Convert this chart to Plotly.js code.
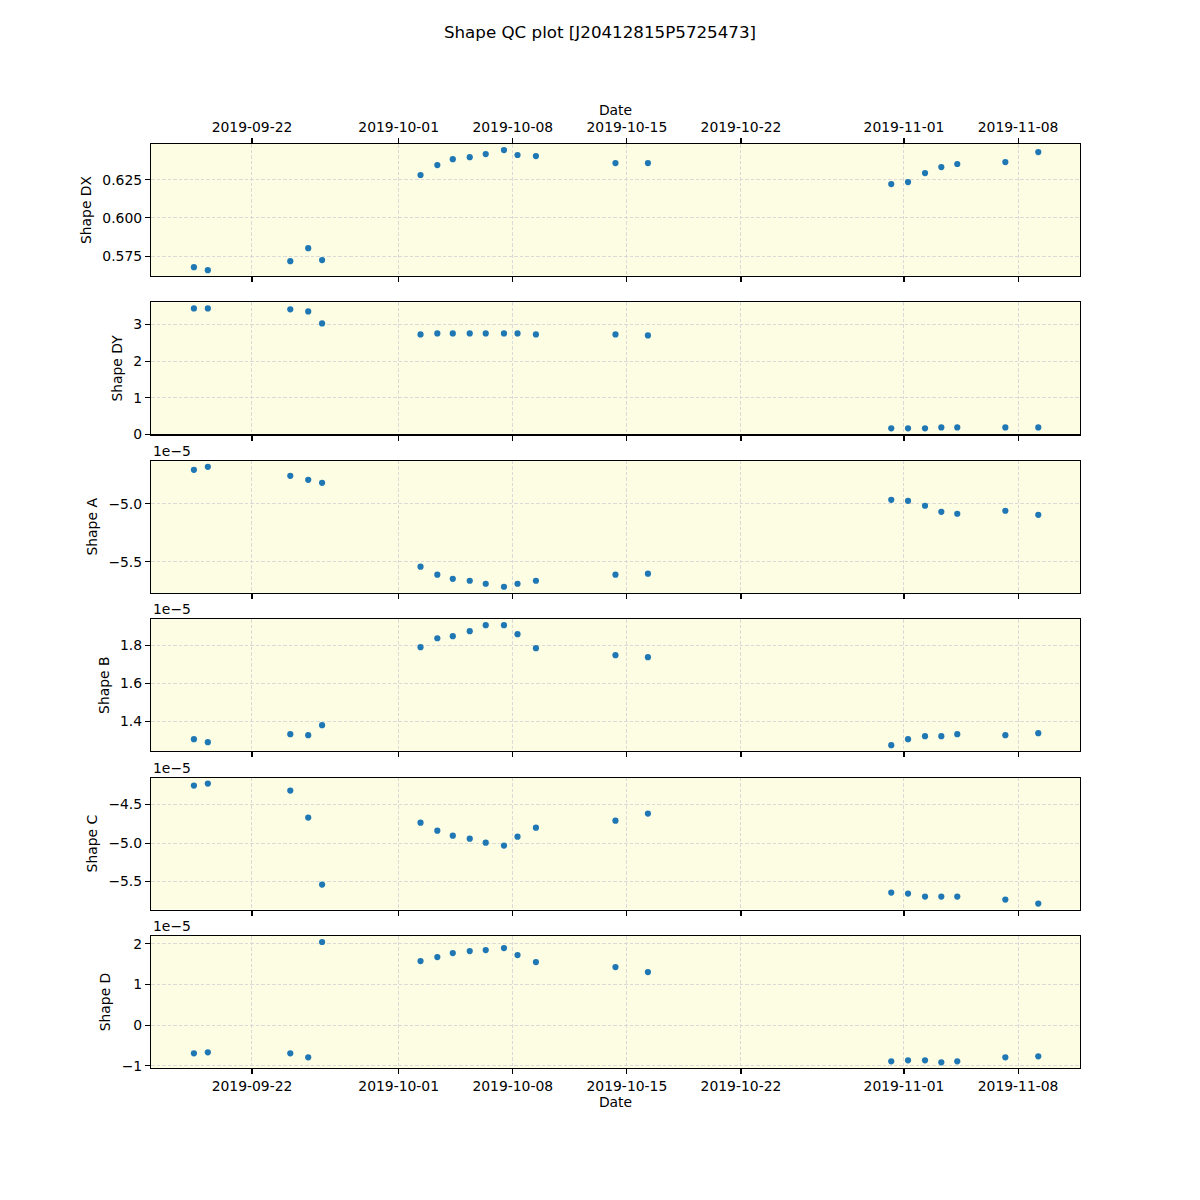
<!DOCTYPE html>
<html>
<head>
<meta charset="utf-8">
<script src="https://cdn.plot.ly/plotly-3.0.1.min.js"></script>
<style>html,body{margin:0;padding:0;background:#fff;}#chart{width:1200px;height:1200px;}</style>
</head>
<body>
<div id="chart"></div>
<script>
// ---- data ----
const dates = [
  '2019-09-18 10:30','2019-09-19 07:00','2019-09-24 08:24','2019-09-25 10:48','2019-09-26 07:12',
  '2019-10-02 08:10','2019-10-03 08:53','2019-10-04 07:40','2019-10-05 08:38','2019-10-06 08:10',
  '2019-10-07 11:02','2019-10-08 07:00','2019-10-09 10:05','2019-10-14 07:12','2019-10-16 07:00',
  '2019-10-31 05:17','2019-11-01 06:00','2019-11-02 07:00','2019-11-03 07:00','2019-11-04 06:29',
  '2019-11-07 05:17','2019-11-09 05:46'
];
const shapeDX = [0.5678,0.5658,0.5717,0.5802,0.5724,0.6281,0.6346,0.6385,0.6398,0.6418,0.6444,
  0.6412,0.6405,0.6359,0.6359,0.6222,0.6235,0.6294,0.6333,0.6353,0.6366,0.6431];
const shapeDY = [3.436,3.436,3.41,3.355,3.027,2.727,2.755,2.755,2.755,2.755,2.755,
  2.755,2.727,2.727,2.70,0.165,0.165,0.165,0.19,0.19,0.19,0.19];
const shapeA = [-4.707e-5,-4.681e-5,-4.759e-5,-4.793e-5,-4.819e-5,-5.543e-5,-5.612e-5,-5.647e-5,-5.664e-5,-5.690e-5,-5.716e-5,
  -5.690e-5,-5.664e-5,-5.612e-5,-5.603e-5,-4.966e-5,-4.974e-5,-5.017e-5,-5.069e-5,-5.086e-5,-5.060e-5,-5.095e-5];
const shapeB = [1.3053e-5,1.2895e-5,1.3316e-5,1.3263e-5,1.3789e-5,1.7895e-5,1.8368e-5,1.8474e-5,1.8737e-5,1.9053e-5,1.9053e-5,
  1.8579e-5,1.7842e-5,1.7474e-5,1.7368e-5,1.2737e-5,1.3053e-5,1.3211e-5,1.3211e-5,1.3316e-5,1.3263e-5,1.3368e-5];
const shapeC = [-4.253e-5,-4.227e-5,-4.318e-5,-4.669e-5,-5.539e-5,-4.734e-5,-4.838e-5,-4.903e-5,-4.942e-5,-4.994e-5,-5.032e-5,
  -4.916e-5,-4.799e-5,-4.708e-5,-4.617e-5,-5.643e-5,-5.656e-5,-5.695e-5,-5.695e-5,-5.695e-5,-5.734e-5,-5.786e-5];
const shapeD = [-0.690e-5,-0.666e-5,-0.690e-5,-0.789e-5,2.046e-5,1.578e-5,1.676e-5,1.775e-5,1.824e-5,1.849e-5,1.898e-5,
  1.726e-5,1.553e-5,1.430e-5,1.307e-5,-0.887e-5,-0.863e-5,-0.863e-5,-0.912e-5,-0.887e-5,-0.789e-5,-0.764e-5];

const panelLabels = ['Shape DX','Shape DY','Shape A','Shape B','Shape C','Shape D'];
const panelSeries = [shapeDX, shapeDY, shapeA, shapeB, shapeC, shapeD];
const xTickVals = ['2019-09-22','2019-10-01','2019-10-08','2019-10-15','2019-10-22','2019-11-01','2019-11-08'];
const xTickText = ['2019-09-22','2019-10-01','2019-10-08','2019-10-15','2019-10-22','2019-11-01','2019-11-08'];
const yTickVals = [
  [0.575,0.600,0.625],
  [0,1,2,3],
  [-5.5e-5,-5.0e-5],
  [1.4e-5,1.6e-5,1.8e-5],
  [-5.5e-5,-5.0e-5,-4.5e-5],
  [-1e-5,0,1e-5,2e-5]
];
const yTickText = [
  ['0.575','0.600','0.625'],
  ['0','1','2','3'],
  ['\u22125.5','\u22125.0'],
  ['1.4','1.6','1.8'],
  ['\u22125.5','\u22125.0','\u22124.5'],
  ['\u22121','0','1','2']
];
const offsetText = [null, null, '1e\u22125', '1e\u22125', '1e\u22125', '1e\u22125'];
const yRanges = [
  [0.5620, 0.6484],
  [0.0, 3.6],
  [-5.768e-5, -4.629e-5],
  [1.242e-5, 1.937e-5],
  [-5.864e-5, -4.149e-5],
  [-1.052e-5, 2.194e-5]
];
const xRange = ['2019-09-15 19:18', '2019-11-11 19:12'];

// ---- build ----
const FONT = 'DejaVu Sans, Liberation Sans, sans-serif';
const tickFont = {family: FONT, size: 13.9, color: '#000'};
const GRIDDASH = '3.5px,2px';
const traces = [];
const layout = {
  width: 1200, height: 1200,
  paper_bgcolor: '#ffffff',
  showlegend: false,
  margin: {l: 151, r: 120, t: 144, b: 132, pad: 0},
  font: {family: FONT, size: 13.9, color: '#000'},
  title: {text: 'Shape QC plot [J20412815P5725473]', font: {family: FONT, size: 16.7, color: '#000'},
          x: 0.5, xref: 'container', xanchor: 'center', y: 1 - 32/1200, yref: 'container', yanchor: 'middle'},
  annotations: []
};

const n = panelSeries.length;
for (let k = 0; k < n; k++) {
  const idx = k === 0 ? '' : String(k + 1);
  const top = 1 - k * 6 / 35;
  const bottom = top - 5 / 35;
  traces.push({
    type: 'scatter', mode: 'markers', x: dates, y: panelSeries[k],
    xaxis: 'x' + idx, yaxis: 'y' + idx,
    marker: {color: '#1f77b4', size: 6.2, line: {width: 0}},
    hoverinfo: 'x+y'
  });
  layout['xaxis' + idx] = {
    type: 'date', range: xRange, anchor: 'y' + idx,
    domain: [0, 1],
    tickmode: 'array', tickvals: xTickVals, ticktext: xTickText,
    showticklabels: k === n - 1, tickfont: tickFont,
    ticks: 'outside', ticklen: 5, tickwidth: 1.1, tickcolor: '#000',
    showline: true, linecolor: '#000', linewidth: 1.1, mirror: true,
    showgrid: true, gridcolor: '#d6d6d6', gridwidth: 0.9, griddash: GRIDDASH,
    zeroline: false,
    title: k === n - 1 ? {text: 'Date', font: {family: FONT, size: 13.9, color: '#000'}, standoff: 4} : {text: ''}
  };
  layout['yaxis' + idx] = {
    range: yRanges[k], anchor: 'x' + idx,
    domain: [bottom, top],
    tickmode: 'array', tickvals: yTickVals[k], ticktext: yTickText[k],
    tickfont: tickFont,
    ticks: 'outside', ticklen: 5, tickwidth: 1.1, tickcolor: '#000',
    showline: true, linecolor: '#000', linewidth: 1.1, mirror: true,
    showgrid: true, gridcolor: '#d6d6d6', gridwidth: 0.9, griddash: GRIDDASH,
    zeroline: false,
    title: {text: panelLabels[k], font: {family: FONT, size: 13.9, color: '#000'}, standoff: 7}
  };
  if (offsetText[k]) {
    layout.annotations.push({
      text: offsetText[k], xref: 'paper', yref: 'paper', x: 0, y: top,
      xanchor: 'left', yanchor: 'bottom', showarrow: false, yshift: 0,
      font: {family: FONT, size: 13.9, color: '#000'}
    });
  }
}
layout.plot_bgcolor = '#fdfde3';

// top date axis for the first panel
layout.xaxis7 = {
  type: 'date', range: xRange, overlaying: 'x', side: 'top', anchor: 'y',
  tickmode: 'array', tickvals: xTickVals, ticktext: xTickText,
  showticklabels: true, tickfont: tickFont,
  ticks: 'outside', ticklen: 5, tickwidth: 1.1, tickcolor: '#000',
  showline: false, showgrid: false, zeroline: false,
  title: {text: 'Date', font: {family: FONT, size: 13.9, color: '#000'}, standoff: 0}
};
traces.push({
  type: 'scatter', mode: 'markers', x: dates, y: shapeDX, xaxis: 'x7', yaxis: 'y',
  marker: {color: '#1f77b4', size: 6.2, opacity: 0}, hoverinfo: 'skip'
});

Plotly.newPlot('chart', traces, layout, {displayModeBar: false, staticPlot: true});
</script>
</body>
</html>
